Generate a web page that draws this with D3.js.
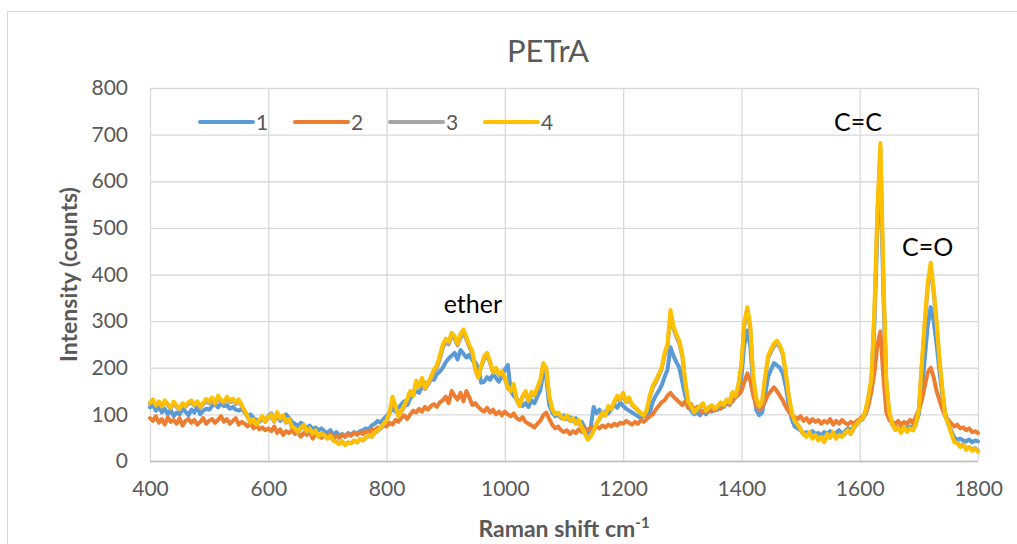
<!DOCTYPE html>
<html>
<head>
  <script src="https://d3js.org/d3.v7.min.js"></script>
  <style>
    body { margin: 0; background: #fff; }
    text { font-family: Lato, "Open Sans", sans-serif; }
    .axis text { font-size: 21px; fill: #595959; }
    .axis line { stroke: #d9d9d9; stroke-width: 1.3; }
    .axis path { display: none; }
    .series { fill: none; stroke-width: 4; stroke-linejoin: round; stroke-linecap: round; }
    .label { font-size: 25px; fill: #000; text-anchor: middle; }
    .title { font-size: 31px; fill: #595959; text-anchor: middle; }
    .axis-title { font-size: 23px; font-weight: bold; fill: #595959; text-anchor: middle; }
    .legend text { font-size: 21px; fill: #595959; }
  </style>
</head>
<body>
  <svg class="chart"></svg>
  <script>
    // Raman shift sample positions, cm-1 (every 5 cm-1)
    var shift = d3.range(400, 1801, 5);

    var names = ['1', '2', '3', '4'];
    var colors = ['#5b9bd5', '#ed7d31', '#a5a5a5', '#ffc000'];
    var xTicks = [400, 600, 800, 1000, 1200, 1400, 1600, 1800];
    var yTicks = [0, 100, 200, 300, 400, 500, 600, 700, 800];

    // each row = 100 cm-1 (20 samples)
    var series1 = [
      115,120,108,118,104,112,100,110,96,104,100,112,106,98,110,104,116,100,108,112,
      110,118,122,115,124,118,120,112,116,110,108,112,104,96,100,92,88,84,90,86,
      96,102,90,98,86,94,100,92,84,80,74,82,78,70,76,68,72,66,70,64,
      60,66,56,62,54,58,52,60,56,62,58,64,66,70,68,76,80,86,82,90,
      96,104,112,106,114,122,128,120,134,142,150,146,160,168,164,176,174,186,192,200,
      212,220,226,232,218,238,230,222,228,216,212,198,168,170,180,174,186,178,170,182,
      196,206,150,140,134,126,118,124,116,130,124,138,152,190,178,120,104,96,100,92,
      98,90,94,86,92,80,84,72,60,70,116,102,110,98,106,102,112,120,114,126,
      118,112,108,104,100,96,92,98,94,104,126,140,150,162,180,196,244,226,212,200,
      170,140,118,108,100,104,98,106,100,112,106,114,110,120,116,124,132,128,140,150,
      180,250,280,246,160,110,98,104,140,180,196,210,205,200,188,160,120,90,74,70,
      66,58,62,56,64,58,60,54,62,58,64,56,60,66,58,64,70,66,74,80,
      86,90,104,128,170,300,500,640,360,160,100,78,70,74,68,76,70,74,72,82,
      100,150,220,290,330,300,250,190,140,100,78,64,50,46,48,44,42,46,40,44,
      42
    ];
    var series2 = [
      92,86,96,82,90,78,94,84,88,80,92,76,86,90,82,88,78,84,92,80,
      86,90,82,88,96,84,90,80,86,92,78,84,80,74,82,70,76,68,72,66,
      70,64,74,60,68,56,64,60,66,58,62,52,60,56,64,48,58,54,50,56,
      52,58,48,54,50,56,52,58,54,60,56,62,58,64,60,68,66,72,70,76,
      74,82,78,88,84,92,98,90,100,108,104,112,106,116,110,118,122,116,126,130,
      138,124,150,140,132,146,128,150,136,120,124,116,110,106,114,104,110,100,106,98,
      106,100,96,102,92,88,94,84,80,76,72,80,86,98,104,90,78,70,74,66,
      62,66,58,64,60,68,62,70,66,72,68,74,70,76,72,78,74,80,76,82,
      80,86,82,78,84,80,88,84,90,96,100,110,118,126,130,140,146,138,132,126,
      120,128,114,122,108,116,110,104,112,106,114,108,116,112,118,124,120,130,136,142,
      150,170,188,172,140,118,110,116,128,142,150,158,150,140,130,116,106,98,94,90,
      96,86,92,82,90,84,88,80,86,82,90,78,86,80,88,82,78,84,80,86,
      90,96,100,120,150,190,250,278,180,105,88,84,80,86,78,84,80,88,82,96,
      110,130,160,190,200,180,150,130,110,95,88,80,74,78,70,72,66,70,62,64,
      60
    ];
    var series3 = [
      122,128,118,124,116,126,120,112,124,116,110,120,116,122,126,118,124,114,122,128,
      124,132,120,136,128,124,134,126,130,122,128,118,106,94,84,88,80,86,92,84,
      92,96,84,100,90,94,82,88,72,70,60,70,76,62,68,58,62,52,58,54,
      48,52,44,42,38,42,36,40,38,44,40,46,44,50,54,52,60,64,70,78,
      86,102,132,116,96,106,116,130,146,140,168,158,174,154,164,176,190,200,218,242,
      256,250,268,262,248,264,274,260,244,232,196,180,202,218,226,210,190,196,184,188,
      176,156,150,160,130,118,138,146,128,144,140,154,170,204,196,138,110,100,102,94,
      90,96,86,90,80,86,72,60,48,54,66,80,90,102,98,116,110,124,136,130,
      142,126,132,120,114,108,102,98,108,136,158,168,182,196,226,244,314,284,266,252,
      224,166,126,116,104,110,116,122,108,114,118,112,116,124,120,130,124,146,138,162,
      204,292,322,284,176,132,116,126,176,220,234,246,252,244,228,186,138,104,86,78,
      68,58,54,60,50,56,46,52,42,56,50,60,50,56,52,58,64,58,70,78,
      86,90,108,136,176,320,530,672,390,165,104,80,68,72,62,72,64,70,66,78,
      108,204,292,372,414,362,294,212,148,96,80,60,42,40,32,36,26,30,24,28,
      22
    ];
    var series4 = [
      125,132,120,128,118,130,122,115,127,119,112,124,118,126,130,121,128,117,125,133,
      128,136,124,140,131,127,138,129,134,125,132,120,108,95,82,90,78,88,96,85,
      94,100,86,105,92,98,84,90,74,70,62,72,78,64,70,58,66,52,60,55,
      48,54,44,40,36,42,34,40,38,44,40,48,44,50,56,52,62,66,72,80,
      88,104,138,118,96,108,120,134,150,140,172,160,178,156,168,180,196,205,226,250,
      262,256,275,268,252,272,282,266,248,236,196,178,205,224,232,214,190,200,186,192,
      180,158,150,165,132,118,140,150,130,148,142,158,175,210,200,140,112,100,104,96,
      90,98,86,92,80,88,72,60,46,52,64,80,92,104,98,118,112,128,140,132,
      146,128,136,122,116,110,102,98,110,140,162,172,186,200,232,250,324,290,272,258,
      230,170,128,118,104,112,118,124,108,115,120,112,118,126,120,132,126,148,140,165,
      210,300,330,290,180,135,118,128,180,225,240,252,258,248,232,190,140,105,86,78,
      68,58,52,62,48,56,44,52,40,58,50,62,48,56,52,60,66,58,72,80,
      88,92,110,140,180,330,540,682,400,170,105,80,66,72,60,74,62,70,66,80,
      110,210,300,382,425,370,300,215,150,95,80,58,40,38,30,34,24,30,22,26,
      20
    ];
    var allSeries = [series1, series2, series3, series4];

    var W = 1017, H = 544;
    var margin = { top: 88, right: 39, bottom: 83, left: 150 };
    var width = W - margin.left - margin.right;
    var height = H - margin.top - margin.bottom;

    var svg = d3.select('.chart')
      .attr('width', W)
      .attr('height', H);

    // chart area border
    svg.append('rect')
      .attr('x', 7.5).attr('y', 11.5)
      .attr('width', 1100).attr('height', 700)
      .attr('fill', '#fff')
      .attr('stroke', '#d9d9d9');

    svg.append('text')
      .attr('class', 'title')
      .attr('x', 548).attr('y', 62)
      .text('PETrA');

    var chart = svg.append('g')
      .attr('transform', 'translate(' + margin.left + ',' + margin.top + ')');

    var x = d3.scaleLinear().domain([400, 1800]).range([0, width]);
    var y = d3.scaleLinear().domain([0, 800]).range([height, 0]);

    chart.append('g')
      .attr('class', 'y axis')
      .call(d3.axisLeft(y).tickValues(yTicks).tickSize(-width).tickPadding(22));

    chart.append('g')
      .attr('class', 'x axis')
      .attr('transform', 'translate(0,' + height + ')')
      .call(d3.axisBottom(x).tickValues(xTicks).tickFormat(d3.format('d'))
        .tickSize(-height).tickPadding(20));

    // base line
    chart.append('line')
      .attr('x1', 0).attr('x2', width)
      .attr('y1', height + 0.5).attr('y2', height + 0.5)
      .attr('stroke', '#bfbfbf').attr('stroke-width', 1.3);

    var line = d3.line()
      .x(function (d, i) { return x(shift[i]); })
      .y(function (d) { return y(d); });

    chart.selectAll('.series')
      .data(allSeries)
      .enter()
      .append('path')
      .attr('class', 'series')
      .attr('stroke', function (d, i) { return colors[i]; })
      .attr('d', line);

    // peak labels
    chart.append('text').attr('class', 'label')
      .attr('x', x(946)).attr('y', y(317)).text('ether');
    chart.append('text').attr('class', 'label')
      .attr('x', x(1597)).attr('y', y(707)).text('C=C');
    chart.append('text').attr('class', 'label')
      .attr('x', x(1715)).attr('y', y(440)).text('C=O');

    // legend
    var legend = chart.selectAll('.legend')
      .data(names)
      .enter()
      .append('g')
      .attr('class', 'legend')
      .attr('transform', function (d, i) { return 'translate(' + (50 + i * 95) + ',34)'; });

    legend.append('line')
      .attr('x1', 0).attr('x2', 53)
      .attr('stroke', function (d, i) { return colors[i]; })
      .attr('stroke-width', 4)
      .attr('stroke-linecap', 'round');

    legend.append('text')
      .attr('x', 56).attr('y', 7.5)
      .text(function (d) { return d; });

    // axis titles
    svg.append('text')
      .attr('class', 'axis-title')
      .attr('transform', 'translate(77,' + (margin.top + height / 2) + ') rotate(-90)')
      .text('Intensity (counts)');

    var xt = svg.append('text')
      .attr('class', 'axis-title')
      .attr('x', margin.left + width / 2).attr('y', 537);
    xt.append('tspan').text('Raman shift cm');
    xt.append('tspan').attr('dy', -9).style('font-size', '15px').text('-1');
  </script>
</body>
</html>
